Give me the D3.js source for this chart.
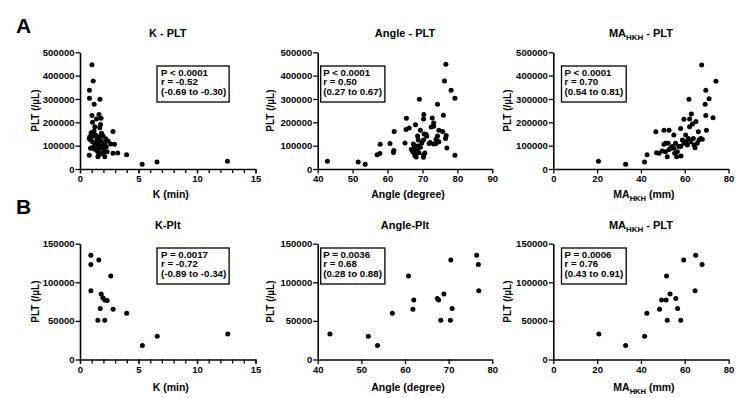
<!DOCTYPE html>
<html><head><meta charset="utf-8">
<script src="https://cdn.jsdelivr.net/npm/d3@7"></script>
<style>
body{margin:0;background:#fff}
svg text{font-family:"Liberation Sans",Arial,sans-serif;font-weight:bold;fill:#000}
</style>
</head><body>
<svg id="c" width="750" height="398"></svg>
<script>
// ---------- DATA ----------
// Panel A (all patients)
const kA = [1.02,1.13,0.81,0.81,1.70,1.21,1.02,1.62,1.41,1.80,1.07,1.75,1.69,1.27,2.82,0.85,0.90,0.79,1.07,1.30,1.47,1.69,1.84,1.98,2.12,2.63,2.95,0.90,1.41,1.69,1.98,2.32,2.82,3.22,3.98,0.79,1.53,2.12,1.84,5.31,6.58,12.6,1.2,1.0,1.55,1.9,2.05,1.35,1.15,1.6,2.25,1.5,1.25,2.4,1.1,1.8,2.0,1.65,0.95,2.2];
const pltKA = [447000,377000,337000,303000,299000,277000,229000,234000,214000,217000,200000,191000,177000,181000,161000,139000,124000,131000,117000,110000,127000,139000,153000,141000,110000,107000,106000,89000,96000,89000,89000,74000,67000,69000,61000,59000,53000,53000,67000,20000,30000,33000,163000,150000,120000,100000,80000,145000,95000,60000,95000,75000,85000,120000,140000,120000,65000,105000,155000,130000];
const angleA = [42.8,51.6,53.6,57.0,57.8,57.9,60.7,61.7,61.8,61.9,65.0,65.3,65.4,66.2,68.0,69.1,70.4,70.3,72.8,73.2,73.2,74.3,74.7,75.8,76.3,76.0,76.7,78.2,79.3,79.3,77.0,76.6,76.8,74.3,73.9,74.7,69.4,68.6,68.8,71.0,71.2,70.3,71.9,72.2,73.2,73.9,67.4,67.9,68.3,68.8,67.6,67.2,67.9,68.2,70.3,70.7,70.3,69.4,69.8,70.5,68.5,66.8,69.0,67.8,72.5];
const pltAngleA = [33000,30000,20000,61000,66000,106000,109000,71000,79000,161000,111000,169000,217000,176000,190000,299000,234000,214000,219000,197000,183000,277000,166000,161000,377000,230000,449000,337000,303000,59000,90000,131000,143000,141000,127000,117000,166000,141000,124000,149000,140000,124000,109000,114000,107000,109000,107000,100000,96000,99000,89000,74000,64000,51000,60000,69000,50000,93000,111000,150000,80000,85000,70000,58000,180000];
const maA = [20.6,33.0,41.6,42.8,46.8,47.1,48.2,49.7,50.5,51.2,52.4,50.5,52.8,52.0,53.5,54.3,55.0,55.8,55.4,56.6,56.3,57.3,58.1,58.3,58.9,59.6,59.6,60.4,61.2,61.6,61.9,62.2,62.2,63.0,63.5,63.9,64.7,65.1,65.7,66.2,66.5,67.3,68.0,67.7,69.3,69.6,69.6,69.9,71.1,72.9,74.2,62.7,64.2,60.4,58.1,55.0,52.8,51.2];
const pltMaA = [33000,20000,30000,61000,160000,70000,67000,77000,106000,110000,110000,166000,166000,53000,89000,96000,146000,110000,67000,74000,53000,96000,174000,56000,124000,213000,110000,146000,103000,131000,299000,181000,214000,236000,193000,131000,91000,203000,110000,160000,124000,131000,127000,446000,277000,337000,229000,166000,301000,220000,376000,117000,103000,117000,96000,89000,84000,74000];
// Panel B (subgroup)
const kB = [0.93,0.93,1.61,2.63,0.93,1.81,1.95,2.12,2.32,1.73,2.83,3.99,1.53,2.12,5.33,6.6,12.63];
const pltKB = [135000,123000,129000,108000,89000,85000,80000,77000,76500,66000,65000,60000,51000,51000,18000,30000,33000];
const angleB = [42.8,51.6,53.7,57.1,60.8,61.8,62.0,67.4,67.7,68.2,68.9,70.4,70.5,70.8,76.4,76.8,76.9];
const pltAngleB = [33000,30000,18000,60000,108000,65000,77000,79000,77000,51000,85000,51000,129000,66000,135000,123000,89000];
const maB = [20.8,33.0,41.7,42.7,48.5,49.4,51.5,51.7,52.0,53.3,55.9,56.7,58.2,59.5,64.7,65.0,67.9];
const pltMaB = [33000,18000,30000,60000,65000,77000,77000,108000,51000,85000,79000,66000,51000,129000,89000,135000,123000];
// Tick values
const kTicks = [0,5,10,15];
const kMinor = [0,1,2,3,4,5,6,7,8,9,10,11,12,13,14,15];
const angleTicksA = [40,50,60,70,80,90];
const angleTicksB = [40,50,60,70,80];
const maTicks = [0,20,40,60,80];
const pltTicksA = [0,100000,200000,300000,400000,500000];
const pltTicksB = [0,50000,100000,150000];
// Texts
const titlesA = ["K - PLT","Angle - PLT","MA|HKH| - PLT"];
const titlesB = ["K-Plt","Angle-Plt","MA|HKH| - PLT"];
const xLabels = ["K (min)","Angle (degree)","MA|HKH| (mm)"];
const yLabel = "PLT (/µL)";
const statsA = [["P < 0.0001","r = -0.52","(-0.69 to -0.30)"],["P < 0.0001","r = 0.50","(0.27 to 0.67)"],["P < 0.0001","r = 0.70","(0.54 to 0.81)"]];
const statsB = [["P = 0.0017","r = -0.72","(-0.89 to -0.34)"],["P = 0.0036","r = 0.68","(0.28 to 0.88)"],["P = 0.0006","r = 0.76","(0.43 to 0.91)"]];

// ---------- LAYOUT ----------
const svg = d3.select("#c");
const cols = [{x0:80,x1:255.5,ylab:35,box:157,tx:4},{x0:317.7,x1:492.3,ylab:270.5,box:320.7,tx:2.5},{x0:553.3,x1:728.6,ylab:507,box:561.5,tx:3}];
const rows = [{yb:169,yt:52.3,title:37,xlab:198,box:66},{yb:359.5,yt:243.7,title:229,xlab:391,box:248}];

const panels = [
  {r:0,c:0,xd:[0,15],xt:kTicks,xm:kMinor,yd:[0,500000],yt:pltTicksA,xs:kA,ys:pltKA,title:titlesA[0],xl:xLabels[0],st:statsA[0]},
  {r:0,c:1,xd:[40,90],xt:angleTicksA,yd:[0,500000],yt:pltTicksA,xs:angleA,ys:pltAngleA,title:titlesA[1],xl:xLabels[1],st:statsA[1]},
  {r:0,c:2,xd:[0,80],xt:maTicks,yd:[0,500000],yt:pltTicksA,xs:maA,ys:pltMaA,title:titlesA[2],xl:xLabels[2],st:statsA[2]},
  {r:1,c:0,xd:[0,15],xt:kTicks,xm:kMinor,yd:[0,150000],yt:pltTicksB,xs:kB,ys:pltKB,title:titlesB[0],xl:xLabels[0],st:statsB[0]},
  {r:1,c:1,xd:[40,80],xt:angleTicksB,yd:[0,150000],yt:pltTicksB,xs:angleB,ys:pltAngleB,title:titlesB[1],xl:xLabels[1],st:statsB[1]},
  {r:1,c:2,xd:[0,80],xt:maTicks,yd:[0,150000],yt:pltTicksB,xs:maB,ys:pltMaB,title:titlesB[2],xl:xLabels[2],st:statsB[2]}
];

// text with "|sub|" subscript markup
function richText(sel, str, size){
  const parts = str.split("|");
  parts.forEach((p,i)=>{
    if(!p) return;
    const t = sel.append("tspan").text(p);
    if(i%2===1){ t.attr("font-size",size*0.72).attr("dy",size*0.25); }
    else if(i>0){ t.attr("dy",-size*0.25); }
  });
}

panels.forEach(p=>{
  const C = cols[p.c], R = rows[p.r];
  const x = d3.scaleLinear().domain(p.xd).range([C.x0, C.x1]);
  const y = d3.scaleLinear().domain(p.yd).range([R.yb, R.yt]);
  const g = svg.append("g");

  if(p.xm){
    const gm = g.append("g").attr("transform",`translate(0,${R.yb})`)
      .call(d3.axisBottom(x).tickValues(p.xm).tickSize(4).tickSizeOuter(0).tickFormat(""));
    gm.select(".domain").remove();
    gm.selectAll("line").attr("stroke","#000").attr("stroke-width",1.3);
  }
  const gx = g.append("g").attr("transform",`translate(0,${R.yb})`)
    .call(d3.axisBottom(x).tickValues(p.xt).tickSize(4.5).tickSizeOuter(0).tickPadding(2).tickFormat(d3.format("d")));
  const gy = g.append("g").attr("transform",`translate(${C.x0},0)`)
    .call(d3.axisLeft(y).tickValues(p.yt).tickSize(4.5).tickSizeOuter(0).tickPadding(1).tickFormat(d3.format("d")));
  [gx,gy].forEach(a=>{
    a.select(".domain").attr("stroke","#000").attr("stroke-width",1.6);
    a.selectAll(".tick line").attr("stroke","#000").attr("stroke-width",1.3);
    a.selectAll(".tick text").attr("font-size",9.5).attr("font-family",null).attr("fill","#000");
  });

  // points
  g.append("g").selectAll("circle").data(p.xs.map((v,i)=>[v,p.ys[i]])).join("circle")
    .attr("cx",d=>x(d[0])).attr("cy",d=>y(d[1])).attr("r",2.5).attr("fill","#000");

  const cx = (C.x0+C.x1)/2;
  // title
  const tt = g.append("text").attr("x",cx).attr("y",R.title).attr("text-anchor","middle").attr("font-size",11);
  richText(tt,p.title,11);
  // x label
  const xlt = g.append("text").attr("x",cx+3).attr("y",R.xlab).attr("text-anchor","middle").attr("font-size",10.5);
  richText(xlt,p.xl,10.5);
  // y label
  g.append("text").attr("transform",`translate(${C.ylab+3.5},${(R.yb+R.yt)/2}) rotate(-90)`)
    .attr("text-anchor","middle").attr("font-size",10).text(yLabel);

  // stats box
  const bg = g.append("g");
  const rect = bg.append("rect").attr("x",C.box).attr("y",R.box).attr("height",36).attr("fill","#fff")
    .attr("stroke","#000").attr("stroke-width",1.3);
  p.st.forEach((s,i)=>{
    bg.append("text").attr("font-size",9.7).attr("x",C.box+C.tx).attr("y",R.box+9.8+i*9.4).text(s);
  });
  const w = d3.max(bg.selectAll("text").nodes(), n=>n.getBBox().width);
  rect.attr("width", w + C.tx + 3);
});

// panel letters
svg.append("text").attr("x",16).attr("y",33).attr("font-size",21).text("A");
svg.append("text").attr("x",16).attr("y",214).attr("font-size",21).text("B");
</script>
</body></html>
